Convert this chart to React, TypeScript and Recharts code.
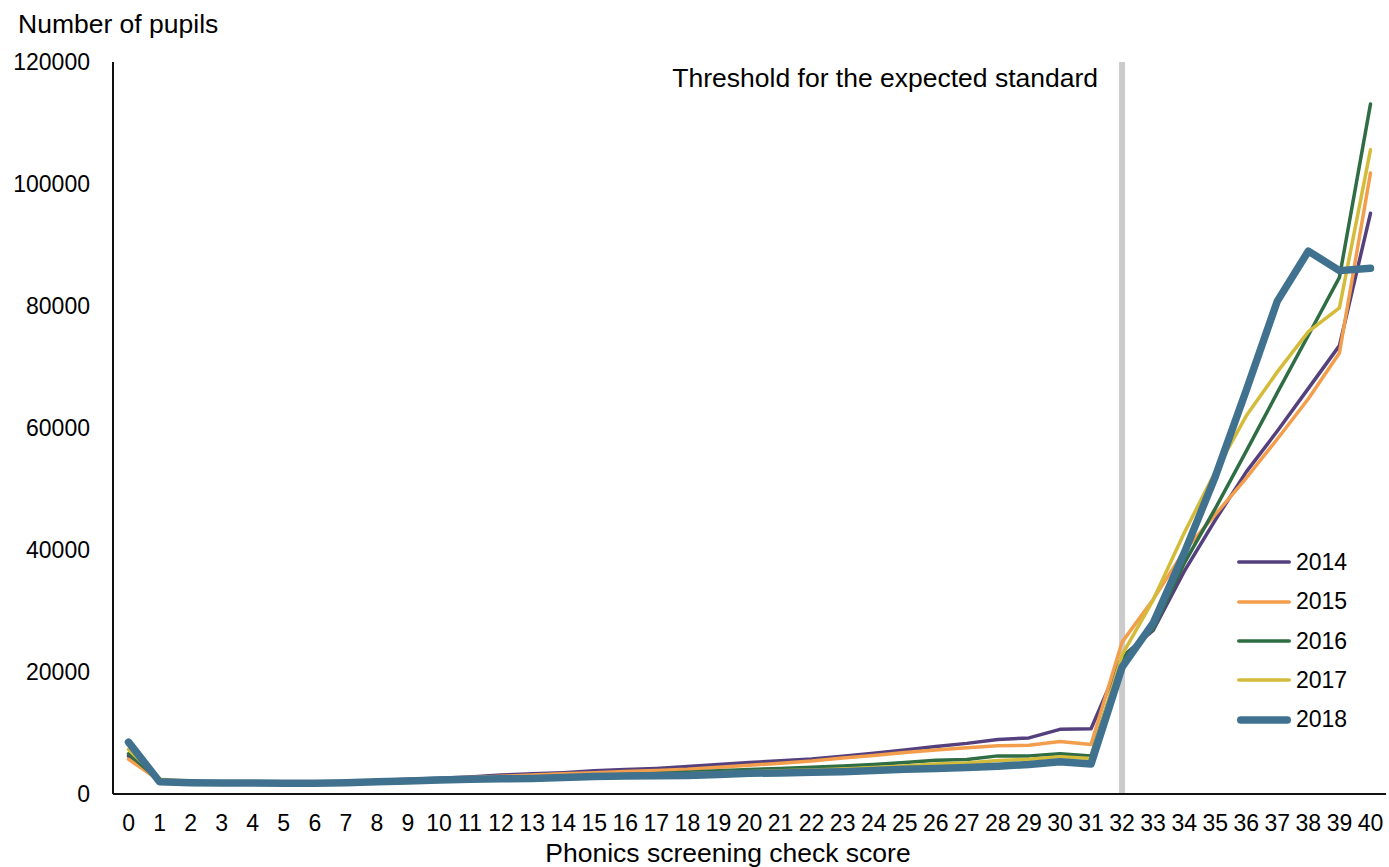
import React from "react";
import { Line, LineChart, ReferenceLine, XAxis, YAxis } from "recharts";

const scores = Array.from({ length: 41 }, (_, i) => i);

const pupils2014 = [
  6200, 2200, 2000, 1900, 1900, 1900, 1900, 2000, 2200, 2400, 2600, 2800, 3100, 3300, 3500, 3800, 4000,
  4200, 4500, 4850, 5150, 5450, 5750, 6200, 6700, 7200, 7800, 8300, 8950, 9200, 10600, 10700,
  22500, 26800, 36500, 44900, 52800, 59500, 66500, 73500, 95200,
];
const pupils2015 = [
  5700, 2200, 2000, 1900, 1900, 1800, 1850, 1950, 2100, 2300, 2500, 2700, 2900, 3100, 3300, 3500, 3700,
  3850, 4050, 4400, 4700, 5050, 5400, 5900, 6300, 6800, 7200, 7600, 7900, 8000, 8600, 8100,
  24900, 31900, 39800, 45800, 51800, 58200, 64800, 72300, 101800,
];
const pupils2016 = [
  6600, 2200, 1900, 1800, 1800, 1750, 1750, 1850, 1950, 2100, 2300, 2450, 2600, 2700, 2900, 3050, 3200,
  3350, 3550, 3800, 4000, 4200, 4400, 4600, 4850, 5150, 5550, 5650, 6250, 6250, 6600, 6250,
  22300, 27000, 37800, 46800, 56200, 65800, 75200, 84700, 113100,
];
const pupils2017 = [
  7300, 2400, 2100, 1900, 1900, 1800, 1800, 1850, 1950, 2100, 2250, 2400, 2550, 2650, 2800, 2950, 3100,
  3200, 3300, 3500, 3650, 3800, 3950, 4100, 4350, 4600, 4900, 5100, 5500, 5700, 6100, 5800,
  22800, 31800, 42800, 52800, 62000, 69200, 75800, 79700, 105600,
];
const pupils2018 = [
  8500, 2000, 1850, 1800, 1800, 1750, 1750, 1850, 2000, 2150, 2300, 2400, 2500, 2550, 2700, 2850, 2950,
  3000, 3050, 3200, 3400, 3450, 3550, 3650, 3850, 4050, 4200, 4350, 4550, 4850, 5300, 4900,
  20800, 28000, 39500, 52000, 66200, 80800, 89000, 85800, 86200,
];

const yTicks = [0, 20000, 40000, 60000, 80000, 100000, 120000];
const threshold = 32;

const series = [
  { key: "2014", values: pupils2014, color: "#55407e", width: 3.5 },
  { key: "2015", values: pupils2015, color: "#f39e4c", width: 3.5 },
  { key: "2016", values: pupils2016, color: "#2f6d44", width: 3.5 },
  { key: "2017", values: pupils2017, color: "#d4bb3a", width: 3.5 },
  { key: "2018", values: pupils2018, color: "#40728f", width: 7.5 },
];

const data = scores.map((score, i) => {
  const row: Record<string, number> = { score };
  series.forEach((s) => (row[s.key] = s.values[i]));
  return row;
});

const FONT = "'Liberation Sans', Arial, sans-serif";

function LegendBox() {
  return (
    <div
      style={{
        position: "absolute",
        left: 1236,
        top: 542.6,
        fontFamily: FONT,
        fontSize: 23,
        color: "#000",
        lineHeight: 1,
      }}
    >
      {series.map((s) => (
        <div key={s.key} style={{ display: "flex", alignItems: "center", height: 39.4 }}>
          <svg width={58} height={12} style={{ marginRight: 2 }}>
            <line
              x1={s.width / 2 + 1}
              x2={55 - s.width / 2}
              y1={6}
              y2={6}
              stroke={s.color}
              strokeWidth={s.width}
              strokeLinecap="round"
            />
          </svg>
          <span>{s.key}</span>
        </div>
      ))}
    </div>
  );
}

export default function App() {
  return (
    <div style={{ position: "absolute", left: 0, top: 0, width: 1389, height: 867, background: "#fff" }}>
      <LineChart
        width={1389}
        height={867}
        data={data}
        margin={{ top: 62, right: 3, bottom: 13, left: 8 }}
        style={{ fontFamily: FONT }}
      >
        <XAxis
          dataKey="score"
          type="number"
          domain={[-0.5, 40.5]}
          ticks={scores}
          interval={0}
          height={60}
          tickLine={false}
          tickSize={0}
          tickMargin={21}
          axisLine={{ stroke: "#111", strokeWidth: 2 }}
          tick={{ fill: "#000", fontSize: 23 }}
        />
        <YAxis
          domain={[0, 120000]}
          ticks={yTicks}
          interval={0}
          width={105}
          tickLine={false}
          tickSize={0}
          tickMargin={23}
          axisLine={{ stroke: "#111", strokeWidth: 2 }}
          tick={{ fill: "#000", fontSize: 23 }}
        />
        <ReferenceLine
          x={threshold}
          stroke="#cbcbcb"
          strokeWidth={6}
          label={({ viewBox }: any) => (
            <text
              x={viewBox.x - 24}
              y={viewBox.y + 25}
              textAnchor="end"
              fontSize={26.5}
              fill="#000"
              fontFamily={FONT}
            >
              Threshold for the expected standard
            </text>
          )}
        />
        {series.map((s) => (
          <Line
            key={s.key}
            dataKey={s.key}
            type="linear"
            stroke={s.color}
            strokeWidth={s.width}
            strokeLinejoin="round"
            strokeLinecap="round"
            dot={false}
            activeDot={false}
            isAnimationActive={false}
          />
        ))}
      </LineChart>
      <LegendBox />
      <svg
        width={1389}
        height={867}
        style={{ position: "absolute", left: 0, top: 0, pointerEvents: "none" }}
        fontFamily={FONT}
      >
        <text x={18} y={33} fontSize={26.5} fill="#000">
          Number of pupils
        </text>
        <text x={728} y={862} fontSize={26.5} fill="#000" textAnchor="middle">
          Phonics screening check score
        </text>
      </svg>
    </div>
  );
}
